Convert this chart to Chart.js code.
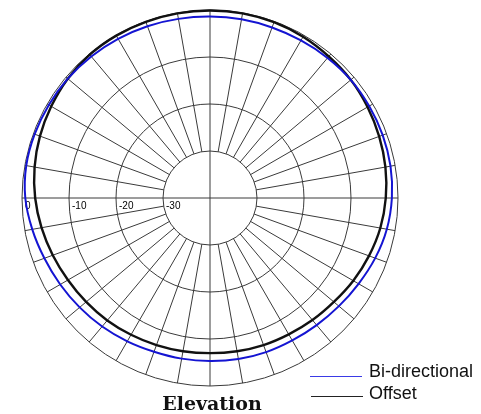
<!DOCTYPE html>
<html>
<head>
<meta charset="utf-8">
<script src="https://cdn.jsdelivr.net/npm/chart.js@4.4.0/dist/chart.umd.min.js"></script>
<style>
  body { margin: 0; background: #fff; }
  #wrap { position: relative; width: 481px; height: 414px; }
  .leg { position: absolute; font: 18px "Liberation Sans", Arial, sans-serif; line-height: 18px; color: #111; }
  .swatch { position: absolute; height: 0; }
  #title { position: absolute; left: 0; width: 424px; text-align: center; top: 394px;
           font: bold 19px "DejaVu Serif", serif; line-height: 19px; color: #111; }
</style>
</head>
<body>
<div id="wrap">
  <canvas id="myChart" width="481" height="414"></canvas>
  <div class="swatch" style="left:310px; top:376px; width:52px; border-top:1.5px solid #3a3ae6;"></div>
  <div class="leg" style="left:369px; top:362px;">Bi-directional</div>
  <div class="swatch" style="left:311px; top:396px; width:52px; border-top:1.5px solid #222;"></div>
  <div class="leg" style="left:369px; top:384px;">Offset</div>
  <div id="title">Elevation</div>
</div>
<script>
// angles in degrees, clockwise from the top
var angles = [];
for (var a = 0; a < 360; a += 10) angles.push(a + '°');

// relative level in dB, one value per 10 degrees
var biDirectional = [-1.4, -1.4, -1.4, -1.3, -1.1, -0.9, -0.9, -0.9, -1.0, -1.3,
                     -1.8, -2.6, -3.5, -4.2, -4.7, -5.0, -5.1, -5.2, -5.3, -5.3,
                     -5.2, -4.8, -4.3, -3.8, -3.2, -2.5, -1.6, -0.7, -0.3, -0.3,
                     -0.4, -0.5, -0.7, -0.9, -1.1, -1.3];
var offset = [-0.1, -0.1, -0.2, -0.4, -0.7, -0.9, -1.3, -1.7, -2.1, -2.6,
              -3.2, -4.0, -4.8, -5.6, -6.1, -6.5, -6.7, -6.9, -7.0, -6.9,
              -6.7, -6.4, -6.0, -5.6, -5.1, -4.4, -3.6, -2.8, -2.1, -1.5,
              -1.0, -0.5, -0.2, -0.1, -0.1, -0.1];

var tickLabels = [0, -10, -20, -30];

// spokes from the -30 ring outwards, the two axes through the centre, and the dB labels
var polarGrid = {
    id: 'polarGrid',
    beforeDatasetsDraw: function(chart) {
        var r = chart.scales.r;
        var ctx = chart.ctx;
        var inner = r.getDistanceFromCenterForValue(-30);
        var outer = r.getDistanceFromCenterForValue(0);
        ctx.save();
        ctx.strokeStyle = '#3a3a3a';
        ctx.lineWidth = 1;
        for (var i = 0; i < angles.length; i++) {
            var p1 = r.getPointPosition(i, i % 9 === 0 ? 0 : inner);
            var p2 = r.getPointPosition(i, outer);
            ctx.beginPath();
            ctx.moveTo(p1.x, p1.y);
            ctx.lineTo(p2.x, p2.y);
            ctx.stroke();
        }
        ctx.fillStyle = '#000';
        ctx.font = '10px "Liberation Sans", Arial, sans-serif';
        ctx.textBaseline = 'top';
        tickLabels.forEach(function(v) {
            var p = r.getPointPosition(27, r.getDistanceFromCenterForValue(v));
            ctx.fillText(String(v), p.x + 3, p.y + 3);
        });
        ctx.restore();
    }
};

var ctx = document.getElementById('myChart').getContext('2d');
var chart = new Chart(ctx, {
    type: 'radar',
    data: {
        labels: angles,
        datasets: [{
            label: 'Bi-directional',
            data: biDirectional,
            borderColor: '#1414d2',
            borderWidth: 2,
            fill: false,
            pointRadius: 0,
            tension: 0.4
        }, {
            label: 'Offset',
            data: offset,
            borderColor: '#111',
            borderWidth: 2.4,
            fill: false,
            pointRadius: 0,
            tension: 0.4
        }]
    },
    options: {
        responsive: false,
        animation: false,
        layout: { padding: { left: 22, top: 10, right: 83, bottom: 28 } },
        plugins: { legend: { display: false }, title: { display: false }, tooltip: { enabled: false } },
        scales: {
            r: {
                min: -40,
                max: 0,
                ticks: { stepSize: 10, display: false },
                grid: { circular: true, color: '#3a3a3a', lineWidth: 1 },
                angleLines: { display: false },
                pointLabels: { display: false }
            }
        }
    },
    plugins: [polarGrid]
});
</script>
</body>
</html>
